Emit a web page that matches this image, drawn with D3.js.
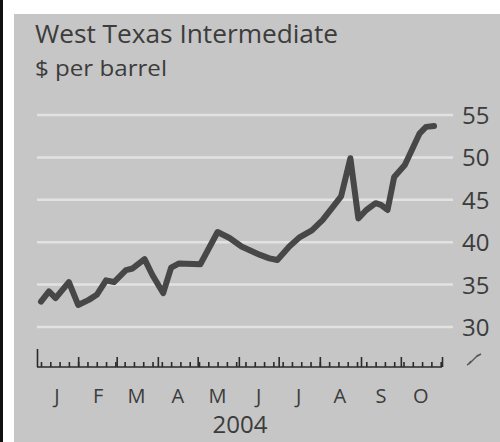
<!DOCTYPE html>
<html><head><meta charset="utf-8">
<script src="https://cdn.jsdelivr.net/npm/d3@7"></script>
<style>
html,body{margin:0;padding:0;background:#fff;}
svg{display:block;}
text{font-family:"Open Sans","DejaVu Sans",sans-serif;fill:#3c3c3c;}
</style></head>
<body>
<script>
const title = "West Texas Intermediate";
const subtitle = "$ per barrel";
const yearLabel = "2004";
const monthLabels = ["J","F","M","A","M","J","J","A","S","O"];
const yTicks = [30,35,40,45,50,55];
const dates = ["2004-01-04","2004-01-10","2004-01-15","2004-01-25","2004-02-01","2004-02-09","2004-02-15","2004-02-22","2004-02-28","2004-03-08","2004-03-13","2004-03-22","2004-03-28","2004-04-05","2004-04-11","2004-04-17","2004-05-03","2004-05-16","2004-05-25","2004-06-03","2004-06-10","2004-06-17","2004-06-24","2004-06-30","2004-07-09","2004-07-17","2004-07-26","2004-08-03","2004-08-11","2004-08-17","2004-08-24","2004-08-30","2004-09-05","2004-09-12","2004-09-16","2004-09-21","2004-09-26","2004-10-04","2004-10-10","2004-10-15","2004-10-20","2004-10-26"];
const prices = [33.0,34.2,33.4,35.3,32.6,33.2,33.8,35.5,35.3,36.7,36.9,38.0,36.1,34.0,37.0,37.5,37.4,41.2,40.5,39.5,39.0,38.5,38.1,37.9,39.5,40.6,41.4,42.6,44.2,45.4,49.9,42.8,43.8,44.6,44.4,43.8,47.7,49.1,51.1,52.8,53.6,53.7];

const W = 500, H = 442;
const parse = d3.timeParse("%Y-%m-%d");
const data = dates.map((d,i)=>({date:parse(d), v:prices[i]}));

const svg = d3.select("body").append("svg").attr("width",W).attr("height",H);
svg.append("rect").attr("x",0).attr("y",0).attr("width",W).attr("height",H).attr("fill","#fff");
svg.append("rect").attr("x",0).attr("y",0).attr("width",3).attr("height",H).attr("fill","#111");
svg.append("rect").attr("x",14).attr("y",14).attr("width",W-14).attr("height",H-14).attr("fill","#c6c6c6");

const x = d3.scaleTime().domain([new Date(2004,0,1), new Date(2004,10,1)]).range([37,442]);
const y = d3.scaleLinear().domain([30,55]).range([327,115]);

svg.append("g").selectAll("line").data(yTicks).join("line")
  .attr("x1",37).attr("x2",453).attr("y1",d=>y(d)).attr("y2",d=>y(d))
  .attr("stroke","#e2e2e2").attr("stroke-width",2.5);

const yAxis = svg.append("g").attr("transform","translate(462,0)")
  .call(d3.axisRight(y).tickValues(yTicks).tickSize(0).tickPadding(0));
yAxis.select(".domain").remove();
yAxis.selectAll("text").attr("font-size",24).attr("fill","#3c3c3c")
  .style("font-family",'"Open Sans","DejaVu Sans",sans-serif').attr("dy","0.35em");

const baseY = 367;
const weeks = d3.timeWeek.range(new Date(2004,0,2), new Date(2004,10,1));
const months = d3.timeMonth.range(new Date(2004,1,1), new Date(2004,10,2));
const gx = svg.append("g").attr("transform",`translate(0,${baseY})`);
gx.call(d3.axisTop(x).tickValues(weeks).tickSize(5).tickFormat("").tickSizeOuter(0));
gx.select(".domain").attr("d",`M${x.range()[0]},0H${x.range()[1]}`);
const gm = svg.append("g").attr("transform",`translate(0,${baseY})`);
gm.call(d3.axisTop(x).tickValues(months).tickSize(10).tickFormat("").tickSizeOuter(0));
gm.select(".domain").remove();
const gs = svg.append("g").attr("transform",`translate(0,${baseY})`);
gs.call(d3.axisTop(x).tickValues([new Date(2004,0,1)]).tickSize(18).tickFormat("").tickSizeOuter(0));
gs.select(".domain").remove();
svg.selectAll(".tick line, .domain").attr("stroke","#2a2a2a").attr("stroke-width",1.6);

const mids = monthLabels.map((m,i)=>new Date(2004,i,16));
svg.append("g").selectAll("text").data(monthLabels).join("text")
  .attr("x",(d,i)=>x(mids[i])).attr("y",403).attr("text-anchor","middle")
  .attr("font-size",20).text(d=>d);
svg.append("text").attr("x",240).attr("y",433).attr("text-anchor","middle")
  .attr("font-size",24).text(yearLabel);

svg.append("path").attr("d","M467,365 C469,364 470,362 471,361 M469,364 L478,355 M476,357 C477,356 479,355 481,354")
  .attr("fill","none").attr("stroke","#555").attr("stroke-width",1.4);

svg.append("text").attr("x",35).attr("y",43).attr("font-size",25)
  .attr("textLength",303).attr("lengthAdjust","spacingAndGlyphs").text(title);
svg.append("text").attr("x",35).attr("y",76).attr("font-size",22)
  .attr("textLength",132).attr("lengthAdjust","spacingAndGlyphs").text(subtitle);

svg.append("path").datum(data)
  .attr("d",d3.line().x(d=>x(d.date)).y(d=>y(d.v)))
  .attr("fill","none").attr("stroke","#474747").attr("stroke-width",6)
  .attr("stroke-linejoin","round").attr("stroke-linecap","round");
</script>
</body></html>
